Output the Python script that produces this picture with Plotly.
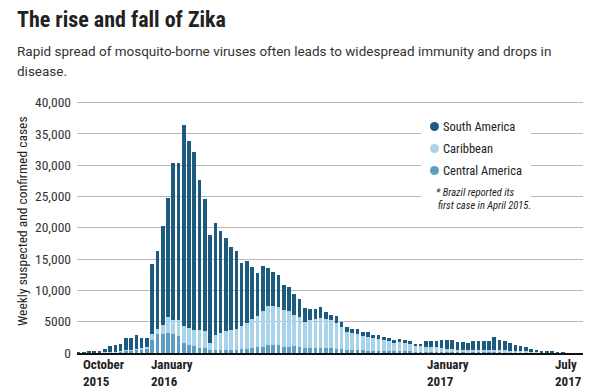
import plotly.graph_objects as go
import pandas as pd

# ---------------- data (weekly, starting week of 27 Sep 2015) ----------------
weeks = pd.date_range("2015-09-27", periods=93, freq="7D")

central_america = [0, 0, 0, 0, 20, 50, 80, 120, 200, 350, 400, 500, 600, 700,
                   2000, 3100, 3050, 3200, 3050, 2700, 1600, 1250, 1060, 870, 750, 500,
                   450, 430, 450, 500, 550, 600, 700, 800, 900, 1000, 1200, 1250, 1200,
                   1000, 950, 1100, 900, 800, 750, 750, 800, 800, 750, 700, 650, 550,
                   550, 500, 450, 400, 400, 350, 350, 300, 300, 300, 280, 250, 220, 200,
                   200, 180, 180, 170, 160, 150, 140, 130, 120, 110, 100, 100, 100, 100,
                   90, 80, 70, 60, 50, 40, 30, 25, 20, 15, 10, 10, 5]

caribbean = [0, 0, 20, 30, 30, 50, 70, 80, 100, 100, 100, 150, 200, 200,
             1100, 800, 1350, 2600, 2250, 2500, 2700, 2750, 2640, 2730, 2700, 1150,
             2400, 2720, 3000, 3200, 3350, 3650, 4100, 4600, 5000, 5750, 6350, 6300,
             6200, 5900, 5780, 5000, 4800, 4200, 4500, 4630, 4780, 4700, 4570, 4050,
             3500, 2850, 2680, 2600, 2270, 2190, 1930, 1850, 1710, 1550, 1290, 1420,
             1370, 1200, 890, 860, 800, 740, 710, 570, 540, 480, 390, 370, 300, 340,
             380, 380, 400, 420, 390, 370, 330, 290, 250, 210, 170, 125, 100, 75, 50,
             30, 15]

south_america = [150, 150, 180, 240, 320, 540, 920, 1140, 1200, 1900, 1900, 2190, 1550, 1500,
                 11050, 12400, 15950, 19000, 25000, 25200, 32100, 29800, 28400, 24100,
                 21200, 17150, 17950, 16320, 14910, 13230, 12340, 10140, 9850, 8350, 6950,
                 7150, 6050, 5350, 5080, 4000, 3740, 3260, 2870, 2250, 1730, 1600, 1820,
                 1100, 780, 1090, 800, 700, 570, 700, 610, 740, 610, 630, 470, 530, 500,
                 530, 500, 450, 370, 390, 950, 1030, 1060, 1400, 1410, 1410, 1290, 1250,
                 1160, 1390, 1370, 1410, 1450, 2000, 1620, 1500, 1150, 970, 750, 650, 480,
                 350, 280, 210, 130, 70, 40]

y_tick_values = [0, 5000, 10000, 15000, 20000, 25000, 30000, 35000, 40000]
y_tick_labels = ["0", "5000", "10,000", "15,000", "20,000", "25,000", "30,000", "35,000", "40,000"]

x_tick_dates = ["2015-10-01", "2016-01-01", "2017-01-01", "2017-07-01"]
x_tick_labels = ["October<br>2015", "January<br>2016", "January<br>2017", "July<br>2017"]
x_label_shift = [-1, -2, -1, -9]

series_names = ["Central America", "Caribbean", "South America"]
legend_order = ["South America", "Caribbean", "Central America"]

# ---------------- style ----------------
DARK = "#1c5a7f"
LIGHT = "#a9d3ea"
MID = "#5e9dc3"
colors = {"South America": DARK, "Caribbean": LIGHT, "Central America": MID}
NARROW = "Liberation Sans Narrow, Roboto Condensed, Arial Narrow, Roboto, sans-serif"
TEXT = "#222222"

L, R, T, B = 77, 17, 100, 36
W, H = 600, 389
PW, PH = W - L - R, H - T - B


def px_x(p):
    return (p - L) / PW


def px_y(p):
    return (H - B - p) / PH


fig = go.Figure()
values = {"Central America": central_america, "Caribbean": caribbean, "South America": south_america}
bar_width = 4.8 * 24 * 3600 * 1000
for name in series_names:
    fig.add_trace(go.Bar(x=weeks, y=values[name], name=name,
                         marker=dict(color=colors[name], line=dict(width=0)),
                         width=bar_width))

annotations = []
# title and subtitle
annotations.append(dict(text="<b>The rise and fall of Zika</b>", x=px_x(15), y=px_y(19),
                        xref="paper", yref="paper", xanchor="left", yanchor="middle",
                        showarrow=False, font=dict(family=NARROW, size=22, color=TEXT)))
annotations.append(dict(text="Rapid spread of mosquito-borne viruses often leads to widespread immunity and drops in",
                        x=px_x(15), y=px_y(51), xref="paper", yref="paper", xanchor="left",
                        yanchor="middle", showarrow=False,
                        font=dict(family="Roboto, sans-serif", size=13.5, color="#333333")))
annotations.append(dict(text="disease.", x=px_x(15), y=px_y(71), xref="paper", yref="paper",
                        xanchor="left", yanchor="middle", showarrow=False,
                        font=dict(family="Roboto, sans-serif", size=13.5, color="#333333")))
# y-axis title
annotations.append(dict(text="Weekly suspected and confirmed cases", x=px_x(22), y=px_y(221),
                        xref="paper", yref="paper", xanchor="center", yanchor="middle",
                        textangle=-90, showarrow=False,
                        font=dict(family=NARROW, size=13.5, color=TEXT)))
# x tick labels (left aligned at the tick date)
for d, lab, sh in zip(x_tick_dates, x_tick_labels, x_label_shift):
    annotations.append(dict(text="<b>" + lab.replace("<br>", "</b><br><b>") + "</b>", x=d, xref="x",
                            xshift=sh, y=px_y(355), yref="paper", xanchor="left", yanchor="top",
                            align="left", showarrow=False,
                            font=dict(family=NARROW, size=13, color=TEXT)))
# legend
shapes = [dict(type="rect", xref="paper", yref="paper", x0=px_x(421), x1=px_x(531),
               y0=px_y(212), y1=px_y(114), fillcolor="white", line=dict(width=0), layer="above")]
legend_y = [126.5, 148.5, 170.5]
for name, yy in zip(legend_order, legend_y):
    shapes.append(dict(type="circle", xref="paper", yref="paper",
                       x0=px_x(430), x1=px_x(439), y0=px_y(yy + 4.5), y1=px_y(yy - 4.5),
                       fillcolor=colors[name], line=dict(width=0), layer="above"))
    annotations.append(dict(text=name, x=px_x(441), y=px_y(yy), xref="paper", yref="paper",
                            xanchor="left", yanchor="middle", showarrow=False,
                            font=dict(family=NARROW, size=12.5, color=TEXT)))
annotations.append(dict(text="<i>* Brazil reported its</i>", x=px_x(434), y=px_y(192),
                        xref="paper", yref="paper", xanchor="left", yanchor="middle",
                        showarrow=False, font=dict(family=NARROW, size=10.5, color=TEXT)))
annotations.append(dict(text="<i>first case in April 2015.</i>", x=px_x(436), y=px_y(205),
                        xref="paper", yref="paper", xanchor="left", yanchor="middle",
                        showarrow=False, font=dict(family=NARROW, size=10.5, color=TEXT)))

fig.update_layout(
    width=W, height=H, margin=dict(l=L, r=R, t=T, b=B, pad=0),
    barmode="stack", bargap=0, showlegend=False,
    plot_bgcolor="white", paper_bgcolor="white",
    xaxis=dict(type="date", range=["2015-09-25", "2017-07-29"], showgrid=False,
               showticklabels=False, ticks="", showline=True, linecolor="#111111",
               linewidth=2, zeroline=False),
    yaxis=dict(range=[0, 40400], tickvals=y_tick_values, ticktext=y_tick_labels,
               showgrid=True, gridcolor="#b8b8b8", gridwidth=1.2, zeroline=False,
               showline=False, ticks="", ticklabelstandoff=5,
               tickfont=dict(family=NARROW, size=13.5, color="#333333")),
    annotations=annotations, shapes=shapes,
)

fig.write_html("out.html", config={"displayModeBar": False},
               post_script="document.body.style.margin='0';document.body.style.overflow='hidden';")
